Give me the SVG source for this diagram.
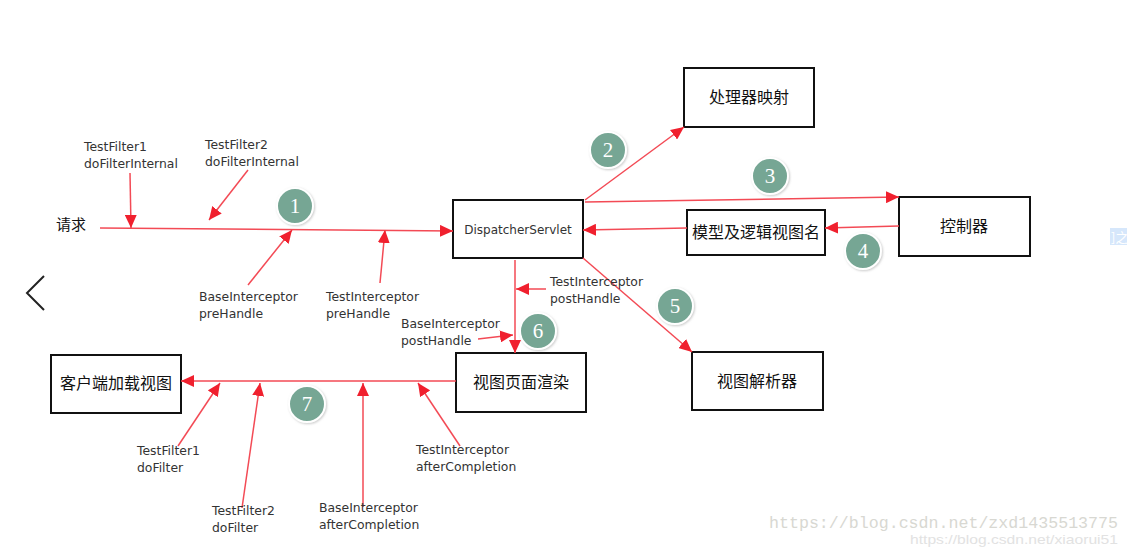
<svg xmlns="http://www.w3.org/2000/svg" width="1127" height="556" viewBox="0 0 1127 556">
  <defs>
    <marker id="arr" markerUnits="userSpaceOnUse" markerWidth="14" markerHeight="12" refX="13" refY="6" orient="auto">
      <path d="M0,0 L13,6 L0,12 Z" fill="#f0202e"/>
    </marker>
    <filter id="shadow" x="-30%" y="-30%" width="160%" height="160%">
      <feDropShadow dx="1" dy="1" stdDeviation="1.2" flood-color="#999" flood-opacity="0.5"/>
    </filter>
    <style>
      .box { fill: #fff; stroke: #111; stroke-width: 2; }
      .cn { font-family: "Noto Sans CJK SC", "DejaVu Sans", sans-serif; font-size: 16px; fill: #111; text-anchor: middle; }
      .lbl { font-family: "DejaVu Sans", sans-serif; font-size: 12.4px; fill: #333; }
      .ln { stroke: #f34a55; stroke-width: 1.5; fill: none; marker-end: url(#arr); }
      .step circle { fill: #76a694; stroke: #fff; stroke-width: 2; filter: url(#shadow); }
      .step text { font-family: "Liberation Serif", serif; font-size: 21px; fill: #fff; text-anchor: middle; }
    </style>
  </defs>
  <rect width="1127" height="556" fill="#fff"/>

  <!-- nodes -->
  <g id="request"><text x="56" y="230" class="cn" style="text-anchor:start;font-size:15px">请求</text></g>
  <g id="dispatcher"><rect class="box" x="453" y="200" width="130" height="58"/><text x="518" y="234" class="lbl" style="text-anchor:middle;font-size:12px">DispatcherServlet</text></g>
  <g id="handler-mapping"><rect class="box" x="684" y="68" width="130" height="59"/><text x="749" y="103" class="cn">处理器映射</text></g>
  <g id="controller"><rect class="box" x="899" y="197" width="131" height="59"/><text x="964" y="232" class="cn">控制器</text></g>
  <g id="model-view"><rect class="box" x="687" y="210" width="138" height="45"/><text x="756" y="238" class="cn">模型及逻辑视图名</text></g>
  <g id="view-resolver"><rect class="box" x="692" y="352" width="131" height="58"/><text x="757" y="387" class="cn">视图解析器</text></g>
  <g id="view-render"><rect class="box" x="456" y="353" width="130" height="59"/><text x="521" y="388" class="cn">视图页面渲染</text></g>
  <g id="client-view"><rect class="box" x="51" y="355" width="130" height="58"/><text x="116" y="389" class="cn">客户端加载视图</text></g>

  <!-- connectors -->
  <g id="connectors">
    <path class="ln" d="M100,228 L453,231"/>
    <path class="ln" d="M130,173 L131,228"/>
    <path class="ln" d="M248,170 L209,220"/>
    <path class="ln" d="M248,285 L292,230"/>
    <path class="ln" d="M380,283 L385,230"/>
    <path class="ln" d="M585,200 L684,127"/>
    <path class="ln" d="M585,202 L899,197"/>
    <path class="ln" d="M899,226 L825,228"/>
    <path class="ln" d="M687,228 L583,230"/>
    <path class="ln" d="M583,258 L692,352"/>
    <path class="ln" d="M515,260 L515,353"/>
    <path class="ln" d="M546,289 L516,289"/>
    <path class="ln" d="M478,339 L513,335"/>
    <path class="ln" d="M456,381 L181,381"/>
    <path class="ln" d="M178,446 L220,383"/>
    <path class="ln" d="M242,508 L260,383"/>
    <path class="ln" d="M363,507 L363,383"/>
    <path class="ln" d="M460,446 L418,383"/>
  </g>

  <!-- hook labels -->
  <g id="labels" class="lbl">
    <text x="84" y="151">TestFilter1</text><text x="84" y="168">doFilterInternal</text>
    <text x="205" y="149">TestFilter2</text><text x="205" y="166">doFilterInternal</text>
    <text x="199" y="301">BaseInterceptor</text><text x="199" y="318">preHandle</text>
    <text x="326" y="301">TestInterceptor</text><text x="326" y="318">preHandle</text>
    <text x="550" y="286">TestInterceptor</text><text x="550" y="303">postHandle</text>
    <text x="401" y="328">BaseInterceptor</text><text x="401" y="345">postHandle</text>
    <text x="137" y="455">TestFilter1</text><text x="137" y="472">doFilter</text>
    <text x="212" y="515">TestFilter2</text><text x="212" y="532">doFilter</text>
    <text x="319" y="512">BaseInterceptor</text><text x="319" y="529">afterCompletion</text>
    <text x="416" y="454">TestInterceptor</text><text x="416" y="471">afterCompletion</text>
  </g>

  <!-- step markers -->
  <g id="steps">
    <g class="step"><circle cx="295" cy="206" r="18"/><text x="295" y="213">1</text></g>
    <g class="step"><circle cx="608" cy="150" r="18"/><text x="608" y="157">2</text></g>
    <g class="step"><circle cx="770" cy="176" r="18"/><text x="770" y="183">3</text></g>
    <g class="step"><circle cx="863" cy="251" r="18"/><text x="863" y="258">4</text></g>
    <g class="step"><circle cx="675" cy="306" r="18"/><text x="675" y="313">5</text></g>
    <g class="step"><circle cx="538" cy="331" r="18"/><text x="538" y="338">6</text></g>
    <g class="step"><circle cx="307" cy="404" r="18"/><text x="307" y="411">7</text></g>
  </g>

  <!-- page chrome -->
  <path d="M44,276 L27,293 L44,310" fill="none" stroke="#222" stroke-width="2"/>
  <rect x="1110" y="228" width="17" height="17" fill="#d6e7fb"/>
  <text x="1111" y="242" font-family="Noto Sans CJK SC, sans-serif" font-size="13" fill="#fff">]之</text>
  <text x="769" y="528" font-family="Liberation Mono, monospace" font-size="16" fill="#d8d8d2" textLength="349" lengthAdjust="spacingAndGlyphs">https://blog.csdn.net/zxd1435513775</text>
  <text x="910" y="544" font-family="Liberation Sans, sans-serif" font-size="13.5" fill="#e2e2e2" textLength="208" lengthAdjust="spacingAndGlyphs">https://blog.csdn.net/xiaorui51</text>
</svg>
